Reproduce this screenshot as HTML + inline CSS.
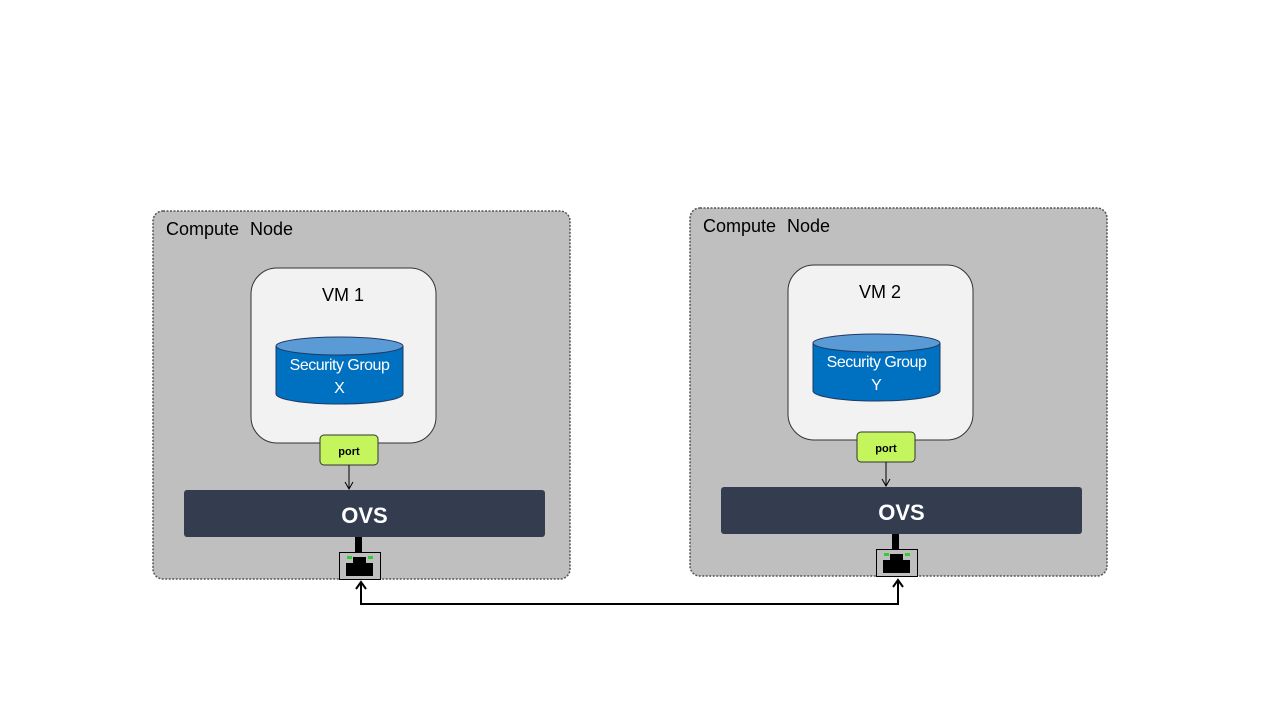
<!DOCTYPE html>
<html><head><meta charset="utf-8"><style>
html,body{margin:0;padding:0;background:#fff;width:1280px;height:720px;overflow:hidden}
svg{display:block}
text{font-family:"Liberation Sans",sans-serif}
</style></head><body>
<svg width="1280" height="720" viewBox="0 0 1280 720" xmlns="http://www.w3.org/2000/svg">
<defs>
<g id="node">
  <rect x="153" y="211" width="417" height="368" rx="10" fill="#bfbfbf" stroke="#555" stroke-width="1.5" stroke-dasharray="2,1.5"/>
  <text x="166" y="235" font-size="18" fill="#000">Compute</text>
  <rect x="251" y="268" width="185" height="175" rx="26" fill="#f2f2f2" stroke="#333" stroke-width="1"/>
  <path d="M276 346 L276 394 A63.5 10 0 0 0 403 394 L403 346" fill="#0070c0" stroke="#1f3864" stroke-width="1"/>
  <ellipse cx="339.5" cy="346" rx="63.5" ry="9" fill="#5b9bd5" stroke="#1f3864" stroke-width="1"/>
  <rect x="320" y="435" width="58" height="30" rx="4" fill="#c4f55c" stroke="#333" stroke-width="1"/>
  <text x="349" y="455" font-size="11" font-weight="bold" text-anchor="middle" fill="#000">port</text>
  <line x1="349" y1="465" x2="349" y2="489" stroke="#000" stroke-width="1"/>
  <path d="M345 482 L349 489 L353 482" fill="none" stroke="#000" stroke-width="1"/>
  <rect x="184" y="490" width="361" height="47" rx="3" fill="#333d4f"/>
  <text x="364.5" y="523" font-size="22" font-weight="bold" text-anchor="middle" fill="#fff">OVS</text>
  <rect x="355" y="537" width="7" height="16" fill="#000"/>
  <rect x="339.5" y="552.5" width="41" height="27" fill="#bfbfbf" stroke="#000" stroke-width="1"/>
  <path d="M346 563 L353 563 L353 557 L366 557 L366 563 L373 563 L373 576 L346 576 Z" fill="#000"/>
  <rect x="347" y="556" width="5" height="3" fill="#33cc33"/>
  <rect x="368" y="556" width="5" height="3" fill="#33cc33"/>
</g>
</defs>
<use href="#node"/>
<use href="#node" transform="translate(537,-3)"/>
<text x="250" y="235" font-size="18" fill="#000">Node</text>
<text x="787" y="232" font-size="18" fill="#000">Node</text>
<text x="343" y="301" font-size="18" text-anchor="middle" fill="#000">VM 1</text>
<text x="880" y="298" font-size="18" text-anchor="middle" fill="#000">VM 2</text>
<text x="339.5" y="370" font-size="16" text-anchor="middle" fill="#fff" letter-spacing="-0.5">Security Group</text>
<text x="339.5" y="393" font-size="16" text-anchor="middle" fill="#fff">X</text>
<text x="876.5" y="367" font-size="16" text-anchor="middle" fill="#fff" letter-spacing="-0.5">Security Group</text>
<text x="876.5" y="390" font-size="16" text-anchor="middle" fill="#fff">Y</text>
<path d="M361 582 L361 604 L898 604 L898 580" fill="none" stroke="#000" stroke-width="2"/>
<path d="M356 589 L361 582 L366 589" fill="none" stroke="#000" stroke-width="2"/>
<path d="M893 587 L898 580 L903 587" fill="none" stroke="#000" stroke-width="2"/>
</svg>
</body></html>
